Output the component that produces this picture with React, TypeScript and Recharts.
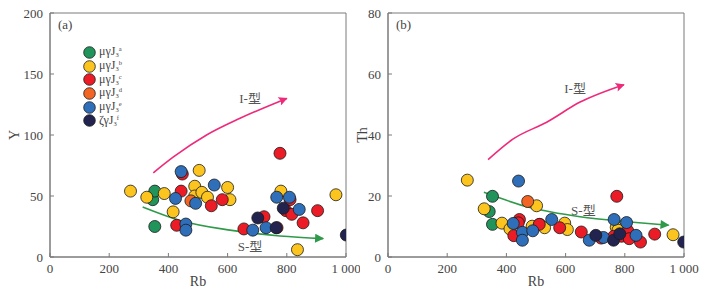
import React from 'react';
import { ScatterChart, Scatter, XAxis, YAxis, ReferenceArea, Legend } from 'recharts';

const FONT = "'Liberation Serif', 'Times New Roman', 'Noto Sans CJK SC', serif";

// ---- tick labels ----
const xTicks = [0, 200, 400, 600, 800, 1000];
const xTickLabels = ['0', '200', '400', '600', '800', '1 000'];
const yTicksA = [0, 50, 100, 150, 200];
const yTicksB = [0, 20, 40, 60, 80];

// ---- series (legend) ----
const seriesNames = ['a', 'b', 'c', 'd', 'e', 'f'];
const seriesPrefixes = ['μγJ', 'μγJ', 'μγJ', 'μγJ', 'μγJ', 'ζγJ'];
const seriesColors = ['#21945c', '#fbc41e', '#ec1c26', '#f26522', '#2f6fba', '#22244f'];

// ---- panel (a): Rb vs Y ----
const aSeriesA = [{ x: 347, y: 47 }, { x: 354, y: 54 }, { x: 354, y: 25 }];
const aSeriesB = [
  { x: 272, y: 54 }, { x: 327, y: 49 }, { x: 386, y: 52 }, { x: 416, y: 37 }, { x: 489, y: 58 },
  { x: 489, y: 50 }, { x: 504, y: 71 }, { x: 513, y: 53 }, { x: 532, y: 49 }, { x: 600, y: 57 },
  { x: 608, y: 47 }, { x: 780, y: 54 }, { x: 836, y: 6 }, { x: 966, y: 51 },
];
const aSeriesC = [
  { x: 447, y: 68 }, { x: 443, y: 54 }, { x: 428, y: 26 }, { x: 545, y: 42 }, { x: 582, y: 47 },
  { x: 655, y: 23 }, { x: 723, y: 33 }, { x: 767, y: 24 }, { x: 777, y: 85 }, { x: 811, y: 47 },
  { x: 797, y: 38 }, { x: 817, y: 35 }, { x: 855, y: 28 }, { x: 904, y: 38 },
];
const aSeriesD = [{ x: 476, y: 46 }];
const aSeriesE = [
  { x: 443, y: 70 }, { x: 424, y: 48 }, { x: 459, y: 27 }, { x: 459, y: 22 }, { x: 492, y: 44 },
  { x: 555, y: 59 }, { x: 685, y: 22 }, { x: 730, y: 24 }, { x: 766, y: 49 }, { x: 809, y: 49 },
  { x: 842, y: 39 },
];
const aSeriesF = [{ x: 702, y: 32 }, { x: 764, y: 24 }, { x: 788, y: 40 }, { x: 1001, y: 18 }];

const aArrowI = [{ x: 349, y: 69 }, { x: 417, y: 82 }, { x: 529, y: 100 }, { x: 642, y: 113.7 }, { x: 800, y: 130 }];
const aArrowS = [{ x: 313, y: 41 }, { x: 439, y: 30 }, { x: 608, y: 22 }, { x: 777, y: 17.2 }, { x: 923, y: 15.1 }];
const aNotes = [{ x: 676, y: 130, label: 'I-型' }, { x: 676, y: 9, label: 'S-型' }];

// ---- panel (b): Rb vs Th ----
const bSeriesA = [{ x: 353, y: 19.9 }, { x: 342, y: 14.9 }, { x: 353, y: 10.7 }];
const bSeriesB = [
  { x: 268, y: 25.2 }, { x: 325, y: 15.8 }, { x: 385, y: 11.1 }, { x: 412, y: 9.2 }, { x: 487, y: 10.1 },
  { x: 502, y: 16.8 }, { x: 513, y: 10.7 }, { x: 529, y: 9.6 }, { x: 597, y: 11.1 }, { x: 606, y: 9.0 },
  { x: 771, y: 9.7 }, { x: 777, y: 8.8 }, { x: 963, y: 7.3 },
];
const bSeriesC = [
  { x: 425, y: 7.0 }, { x: 444, y: 12.3 }, { x: 440, y: 11.2 }, { x: 511, y: 10.7 }, { x: 580, y: 9.6 },
  { x: 653, y: 8.2 }, { x: 720, y: 6.2 }, { x: 773, y: 19.9 }, { x: 763, y: 6.8 }, { x: 789, y: 6.8 },
  { x: 810, y: 8.6 }, { x: 815, y: 6.0 }, { x: 853, y: 4.9 }, { x: 901, y: 7.5 },
];
const bSeriesD = [{ x: 472, y: 18.2 }];
const bSeriesE = [
  { x: 441, y: 24.9 }, { x: 423, y: 11.0 }, { x: 454, y: 8.1 }, { x: 454, y: 5.5 }, { x: 489, y: 8.6 },
  { x: 553, y: 12.3 }, { x: 680, y: 5.5 }, { x: 728, y: 6.4 }, { x: 764, y: 12.3 }, { x: 806, y: 11.3 },
  { x: 838, y: 7.1 },
];
const bSeriesF = [{ x: 702, y: 7.1 }, { x: 762, y: 5.5 }, { x: 783, y: 7.6 }, { x: 999, y: 4.9 }];

const bArrowI = [{ x: 338, y: 31.9 }, { x: 423, y: 38.7 }, { x: 536, y: 44.2 }, { x: 649, y: 50.8 }, { x: 797, y: 56.5 }];
const bArrowS = [{ x: 324, y: 21.2 }, { x: 480, y: 16.2 }, { x: 649, y: 13.2 }, { x: 818, y: 11.5 }, { x: 948, y: 10.4 }];
const bNotes = [{ x: 632, y: 55.4, label: 'I-型' }, { x: 660, y: 15.1, label: 'S-型' }];

const aSeries = [aSeriesA, aSeriesB, aSeriesC, aSeriesD, aSeriesE, aSeriesF];
const bSeries = [bSeriesA, bSeriesB, bSeriesC, bSeriesD, bSeriesE, bSeriesF];

const AXIS_COLOR = '#7a7a7a';
const TEXT_COLOR = '#444';

const XTick = (props: any) => {
  const { x, y, payload } = props;
  const i = xTicks.indexOf(payload.value);
  return (
    <g>
      <line x1={x} x2={x} y1={y - 7} y2={y - 11} stroke={AXIS_COLOR} strokeWidth={1} />
      <text x={x} y={y} dy="0.72em" textAnchor="middle" fontSize={13} fill={TEXT_COLOR} fontFamily={FONT}>
        {i >= 0 ? xTickLabels[i] : payload.value}
      </text>
    </g>
  );
};

const YTick = (props: any) => {
  const { x, y, payload } = props;
  return (
    <g>
      <line x1={x + 7} x2={x + 11} y1={y} y2={y} stroke={AXIS_COLOR} strokeWidth={1} />
      <text x={x} y={y} dy="0.35em" textAnchor="end" fontSize={13} fill={TEXT_COLOR} fontFamily={FONT}>
        {payload.value}
      </text>
    </g>
  );
};

const Dot = (color: string) => (p: any) => (
  <circle cx={p.cx} cy={p.cy} r={6} fill={color} stroke="#1a1a1a" strokeWidth={0.8} />
);

const Note = (p: any) => (
  <text x={p.cx} y={p.cy} dy="0.35em" textAnchor="middle" fontSize={13} fill="#555" fontFamily={FONT}>
    {p.payload.label}
  </text>
);

const Empty = () => <g />;

const LegendBox = () => (
  <div style={{ fontFamily: FONT, fontSize: 12, color: '#444' }}>
    {seriesNames.map((n, i) => (
      <div key={n} style={{ display: 'flex', alignItems: 'center', height: 13.7 }}>
        <svg width={13} height={13} style={{ marginRight: 3 }}>
          <circle cx={6.5} cy={6.5} r={5.8} fill={seriesColors[i]} stroke="#1a1a1a" strokeWidth={0.8} />
        </svg>
        <span style={{ lineHeight: '12px', whiteSpace: 'nowrap' }}>
          {seriesPrefixes[i]}
          <span style={{ fontSize: 6.5, position: 'relative', top: 2 }}>3</span>
          <span style={{ fontSize: 6.5, position: 'relative', top: -4 }}>{n}</span>
        </span>
      </div>
    ))}
  </div>
);

type PanelProps = {
  width: number;
  margin: { top: number; right: number; bottom: number; left: number };
  yMax: number;
  yTicks: number[];
  yLabel: string;
  yLabelDx: number;
  panelLabel: string;
  series: { x: number; y: number }[][];
  arrowI: { x: number; y: number }[];
  arrowS: { x: number; y: number }[];
  notes: { x: number; y: number; label: string }[];
  showLegend: boolean;
};

const Panel = (props: PanelProps) => {
  const { width, margin, yMax, yTicks, yLabel, yLabelDx, panelLabel, series, arrowI, arrowS, notes, showLegend } = props;
  return (
    <ScatterChart width={width} height={294} margin={margin}>
      <ReferenceArea x1={0} x2={1000} y1={0} y2={yMax} fill="none" stroke={AXIS_COLOR} strokeWidth={1}
        ifOverflow="visible"
        label={{
          content: (lp: any) => (
            <text x={lp.viewBox.x + 8} y={lp.viewBox.y + 16} fontSize={13} fill={TEXT_COLOR} fontFamily={FONT}>
              {panelLabel}
            </text>
          ),
        }}
      />
      <XAxis type="number" dataKey="x" domain={[0, 1000]} ticks={xTicks} interval={0} tickSize={0} tickMargin={7}
        height={30} stroke={AXIS_COLOR} tick={<XTick />} allowDataOverflow
        label={{
          content: (lp: any) => (
            <text x={lp.viewBox.x + lp.viewBox.width / 2} y={lp.viewBox.y + 29} textAnchor="middle" fontSize={14}
              fill={TEXT_COLOR} fontFamily={FONT}>Rb</text>
          ),
        }}
      />
      <YAxis type="number" dataKey="y" domain={[0, yMax]} ticks={yTicks} interval={0} tickSize={0} tickMargin={7}
        width={30} stroke={AXIS_COLOR} tick={<YTick />} allowDataOverflow
        label={{
          content: (lp: any) => {
            const cx = lp.viewBox.x + yLabelDx;
            const cy = lp.viewBox.y + lp.viewBox.height / 2;
            return (
              <text x={cx} y={cy} dy="0.35em" textAnchor="middle" fontSize={14} fill={TEXT_COLOR} fontFamily={FONT}
                transform={`rotate(-90, ${cx}, ${cy})`}>{yLabel}</text>
            );
          },
        }}
      />
      <Scatter data={arrowI} line={{ stroke: '#ee2a7b', strokeWidth: 1.6, markerEnd: 'url(#arrPink)' } as any}
        lineJointType="monotoneX" shape={Empty} isAnimationActive={false} legendType="none" />
      <Scatter data={arrowS} line={{ stroke: '#2f9a4a', strokeWidth: 1.6, markerEnd: 'url(#arrGreen)' } as any}
        lineJointType="monotoneX" shape={Empty} isAnimationActive={false} legendType="none" />
      <Scatter data={notes} shape={Note} isAnimationActive={false} legendType="none" />
      {series.map((d, i) => (
        <Scatter key={seriesNames[i]} name={seriesNames[i]} data={d} shape={Dot(seriesColors[i])}
          isAnimationActive={false} />
      ))}
      {showLegend && (
        <Legend layout="vertical" align="center" verticalAlign="middle" content={<LegendBox />}
          wrapperStyle={{ left: 83, top: 45.5, width: 80, height: 84 }} />
      )}
    </ScatterChart>
  );
};

export default function App() {
  return (
    <div style={{ position: 'absolute', left: 0, top: 0, width: 706, height: 294, background: '#fff', fontFamily: FONT }}>
      <svg width={0} height={0} style={{ position: 'absolute' }}>
        <defs>
          <marker id="arrPink" viewBox="0 0 10 10" refX={9} refY={5} markerWidth={11} markerHeight={9}
            markerUnits="userSpaceOnUse" orient="auto">
            <path d="M0,0 L10,5 L0,10 L2,5 z" fill="#ee2a7b" />
          </marker>
          <marker id="arrGreen" viewBox="0 0 10 10" refX={9} refY={5} markerWidth={10} markerHeight={9}
            markerUnits="userSpaceOnUse" orient="auto">
            <path d="M0,0 L10,5 L0,10 z" fill="#2f9a4a" />
          </marker>
        </defs>
      </svg>
      <div style={{ position: 'absolute', left: 0, top: 0 }}>
        <Panel width={360} margin={{ top: 13, right: 14, bottom: 7, left: 20 }} yMax={200} yTicks={yTicksA}
          yLabel="Y" yLabelDx={-6} panelLabel="(a)" series={aSeries} arrowI={aArrowI} arrowS={aArrowS}
          notes={aNotes} showLegend />
      </div>
      <div style={{ position: 'absolute', left: 350, top: 0 }}>
        <Panel width={356} margin={{ top: 13, right: 22, bottom: 7, left: 8 }} yMax={80} yTicks={yTicksB}
          yLabel="Th" yLabelDx={4} panelLabel="(b)" series={bSeries} arrowI={bArrowI} arrowS={bArrowS}
          notes={bNotes} showLegend={false} />
      </div>
    </div>
  );
}
